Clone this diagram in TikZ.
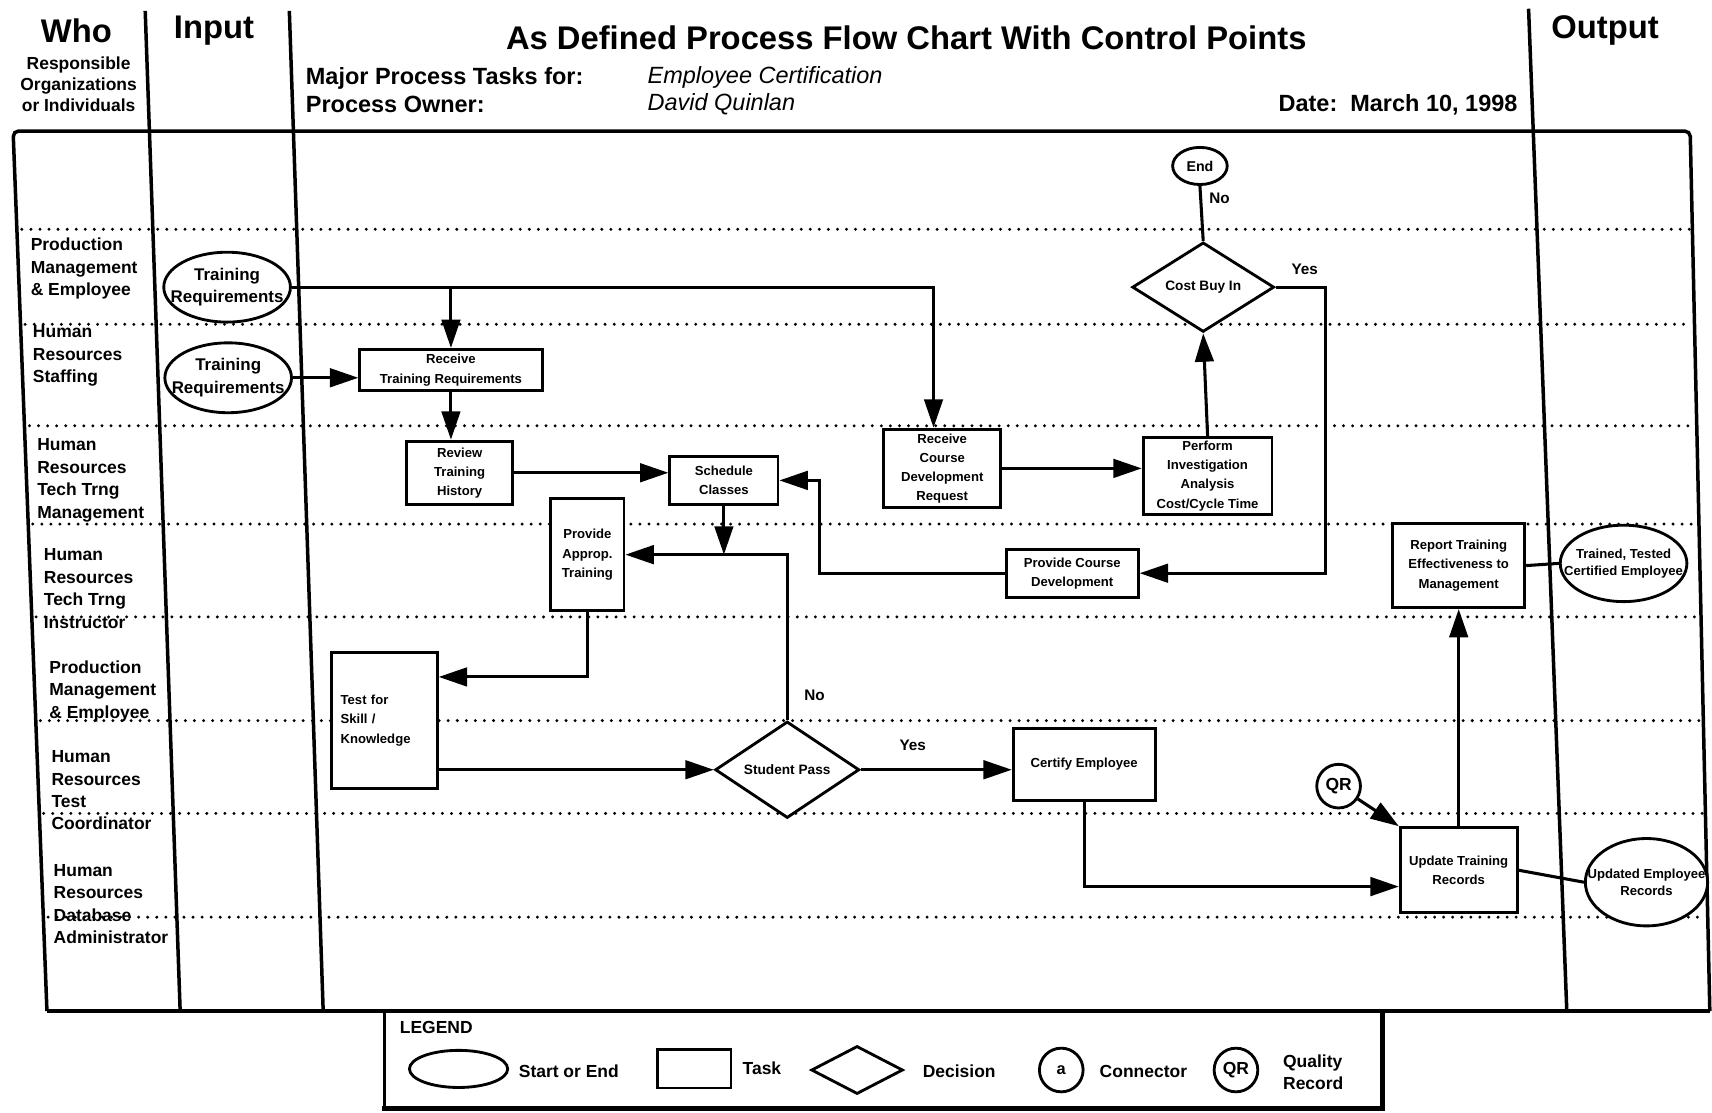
\documentclass[tikz,border=0pt]{standalone}
\usepackage{fontspec}
\setmainfont{Liberation Sans}
\usetikzlibrary{arrows.meta,calc,shapes.geometric,positioning}

\begin{document}
\begin{tikzpicture}[x=1pt, y=-1pt, >={Triangle[length=26pt,width=17pt]},
    frame/.style={line width=3.2pt},
    laneline/.style={line width=3pt, line cap=round, dash pattern=on 0pt off 8.3pt},
    head/.style={inner sep=0pt, font=\fontsize{30}{36}\selectfont\bfseries},
    info/.style={inner sep=0pt, font=\fontsize{21.5}{24}\selectfont\bfseries},
    infoit/.style={inner sep=0pt, font=\fontsize{21.5}{24}\selectfont\itshape},
    lanelbl/.style={anchor=west, align=left, inner sep=0pt, font=\fontsize{16}{20.5}\selectfont\bfseries},
    task/.style={draw, fill=white, line width=2.6pt, inner sep=0pt, align=center, font=\fontsize{12}{17.5}\selectfont\bfseries},
    decision/.style={draw, fill=white, diamond, line width=2.6pt, inner sep=0pt, font=\fontsize{12.5}{15}\selectfont\bfseries},
    terminal/.style={draw, fill=white, ellipse, line width=2.6pt, inner sep=0pt, font=\fontsize{13}{15}\selectfont\bfseries},
    qrmark/.style={draw, fill=white, circle, line width=2.6pt, minimum size=40pt, inner sep=0pt, font=\fontsize{16}{16}\selectfont\bfseries},
    inlbl/.style={align=center, inner sep=0pt, font=\fontsize{15.5}{21}\selectfont\bfseries},
    outlbl/.style={align=center, inner sep=0pt, font=\fontsize{12}{16}\selectfont\bfseries},
    tag/.style={inner sep=0pt, font=\fontsize{14}{16}\selectfont\bfseries},
    legtxt/.style={inner sep=0pt, align=left, font=\fontsize{16}{20}\selectfont\bfseries},
    flow/.style={->, line width=2.8pt},
    link/.style={line width=2.8pt}]
    \useasboundingbox (0,0) rectangle (1568,1019);

    \draw[laneline] (20,210) -- (1548,210);
    \draw[laneline] (23,297) -- (1550,297);
    \draw[laneline] (27,390) -- (1552,390);
    \draw[laneline] (30,480) -- (1554,480);
    \draw[laneline] (33,565) -- (1556,565);
    \draw[laneline] (37,660) -- (1558,660);
    \draw[laneline] (40,745) -- (1560,745);
    \draw[laneline] (44,840) -- (1562,840);

    \coordinate (LT) at (12,120);
    \coordinate (LB) at (43,926);
    \coordinate (RT) at (1548,120);
    \coordinate (RB) at (1566,926);
    \draw[frame, rounded corners=5pt] (LB) -- (LT) -- (RT) -- (RB);
    \draw[frame] (LB) -- (RB);
    \draw[frame] (133,10) -- (165,926);
    \draw[frame] (265,10) -- (296,926);
    \draw[frame] (1400,8) -- (1435,926);

    \node[head] (who) at (70,28) {Who};
    \node[head] (input) at (196,28) {Input};
    \node[head] (output) at (1470,28) {Output};
    \node[head] (title) at (830,35) {As Defined Process Flow Chart With Control Points};
    \node[align=center, inner sep=0pt, font=\fontsize{16}{19.5}\selectfont\bfseries] (whonote) at (72,77) {Responsible\\Organizations\\or Individuals};
    \node[info, anchor=west] (tasksfor) at (280,72) {Major Process Tasks for:};
    \node[info, anchor=west] (owner) at (280,96) {Process Owner:};
    \node[infoit, anchor=west] (taskname) at (593,71) {Employee Certification};
    \node[infoit, anchor=west] (ownername) at (593,95) {David Quinlan};
    \node[info, anchor=east] (date) at (1390,96) {Date:\ \ March 10, 1998};

    \node[lanelbl] (lane1) at (28,246) {Production\\Management\\\& Employee};
    \node[lanelbl] (lane2) at (30,326) {Human\\Resources\\Staffing};
    \node[lanelbl] (lane3) at (34,440) {Human\\Resources\\Tech Trng\\Management};
    \node[lanelbl] (lane4) at (40,539) {Human\\Resources\\Tech Trng\\Instructor};
    \node[lanelbl] (lane5) at (45,633) {Production\\Management\\\& Employee};
    \node[lanelbl] (lane6) at (47,724) {Human\\Resources\\Test\\Coordinator};
    \node[lanelbl] (lane7) at (49,828) {Human\\Resources\\Database\\Administrator};

    \node[terminal, minimum width=116pt, minimum height=64pt, label={[inlbl]center:{Training\\Requirements}}] (in1) at (208,263) {};
    \node[terminal, minimum width=116pt, minimum height=64pt, label={[inlbl]center:{Training\\Requirements}}] (in2) at (209,346) {};

    \node[task, minimum width=167pt, minimum height=38pt] (recvreq) at (413,339) {Receive\\Training Requirements};
    \node[task, minimum width=97pt, minimum height=58pt] (review) at (421,433) {Review\\Training\\History};
    \node[task, minimum width=99pt, minimum height=44pt] (sched) at (663,440) {Schedule\\Classes};
    \node[task, minimum width=67pt, minimum height=103pt] (approp) at (538,508) {Provide\\Approp.\\Training};
    \node[task, minimum width=107pt, minimum height=72pt] (recvcourse) at (863,429) {Receive\\Course\\Development\\Request};
    \node[task, minimum width=118pt, minimum height=71pt] (perform) at (1106,436) {Perform\\Investigation\\Analysis\\Cost/Cycle Time};
    \node[decision, minimum width=130pt, minimum height=82pt] (costbuy) at (1102,263) {Cost Buy In};
    \node[terminal, minimum width=50pt, minimum height=34pt] (finish) at (1099,152) {End};
    \node[task, minimum width=121pt, minimum height=44pt] (coursedev) at (982,525) {Provide Course\\Development};
    \node[task, minimum width=97pt, minimum height=125pt, align=left, text width=80pt] (testskill) at (352,660) {Test for\\Skill /\\Knowledge};
    \node[decision, minimum width=132pt, minimum height=80pt] (studpass) at (721,705) {Student Pass};
    \node[task, minimum width=130pt, minimum height=66pt] (certify) at (993,700) {Certify Employee};
    \node[qrmark] (qr) at (1226,720) {QR};
    \node[task, minimum width=107pt, minimum height=78pt] (update) at (1336,797) {Update Training\\Records};
    \node[task, minimum width=121pt, minimum height=77pt] (report) at (1336,518) {Report Training\\Effectiveness to\\Management};
    \node[terminal, minimum width=116pt, minimum height=70pt, label={[outlbl]center:{Trained, Tested\\Certified Employee}}] (trained) at (1487,516) {};
    \node[terminal, minimum width=112pt, minimum height=80pt, label={[outlbl]center:{Updated Employee\\Records}}] (updated) at (1508,808) {};

    \node[tag] (no1) at (1117,182) {No};
    \node[tag] (yes1) at (1195,247) {Yes};
    \node[tag] (no2) at (746,637) {No};
    \node[tag] (yes2) at (836,683) {Yes};

    \coordinate (J1) at ($(recvcourse.north)+(-8,0)$);
    \draw[flow] (in1.east) -- (in1.east -| J1) -- (J1);
    \draw[flow] (recvreq.north |- in1.east) -- (recvreq.north);
    \draw[flow] (in2.east) -- (in2.east -| recvreq.west);
    \draw[flow] (recvreq.south) -- (recvreq.south |- review.north);
    \draw[flow] (review.east) -- (review.east -| sched.west);
    \coordinate (J2) at (studpass.north |- approp.east);
    \draw[flow] (studpass.north) -- (J2) -- (approp.east);
    \draw[flow] (sched.south) -- (sched.south |- J2);
    \coordinate (J3) at ($(testskill.east)+(0,-40)$);
    \draw[flow] (approp.south) -- (approp.south |- J3) -- (J3);
    \draw[flow] (testskill.east |- studpass.west) -- (studpass.west);
    \draw[flow] (studpass.east) -- (studpass.east -| certify.west);
    \coordinate (J4) at ($(update.west)+(0,15)$);
    \draw[flow] (certify.south) -- (certify.south |- J4) -- (J4);
    \draw[flow] (qr) -- (update.north west);
    \draw[flow] (update.north) -- (report.south);
    \draw[flow] (recvcourse.east) -- (recvcourse.east -| perform.west);
    \draw[flow] (perform.north) -- (costbuy.south);
    \draw[link] (costbuy.north) -- (finish.south);
    \draw[flow] (costbuy.east) -- ++(46,0) coordinate (J5) -- (J5 |- coursedev.east) -- (coursedev.east);
    \draw[flow] (coursedev.west) -- ++(-170,0) coordinate (J6) -- (J6 |- sched.east) -- (sched.east);
    \draw[link] (report.east) -- (trained.west);
    \draw[link] (update.east) -- (updated.west);

    \draw[line width=2.2pt] (352,926) -- (352,1015);
    \draw[line width=4.5pt] (350,1015) -- (1266,1015) -- (1266,926);
    \node[legtxt, anchor=west] (lgtitle) at (366,941) {LEGEND};
    \node[terminal, minimum width=90pt, minimum height=34pt] (lgoval) at (420,979) {};
    \node[legtxt, anchor=west] (lgovaltxt) at (475,981) {Start or End};
    \node[task, minimum width=67pt, minimum height=35pt] (lgbox) at (636,979) {};
    \node[legtxt, anchor=west] (lgboxtxt) at (680,978) {Task};
    \node[decision, minimum width=84pt, minimum height=44pt] (lgdia) at (785,980) {};
    \node[legtxt, anchor=west] (lgdiatxt) at (845,981) {Decision};
    \node[qrmark, font=\fontsize{15}{15}\selectfont\bfseries] (lgcon) at (972,980) {a};
    \node[legtxt, anchor=west] (lgcontxt) at (1007,981) {Connector};
    \node[qrmark] (lgqr) at (1132,980) {QR};
    \node[legtxt, anchor=west] (lgqrtxt) at (1175,982) {Quality\\Record};
\end{tikzpicture}
\end{document}
